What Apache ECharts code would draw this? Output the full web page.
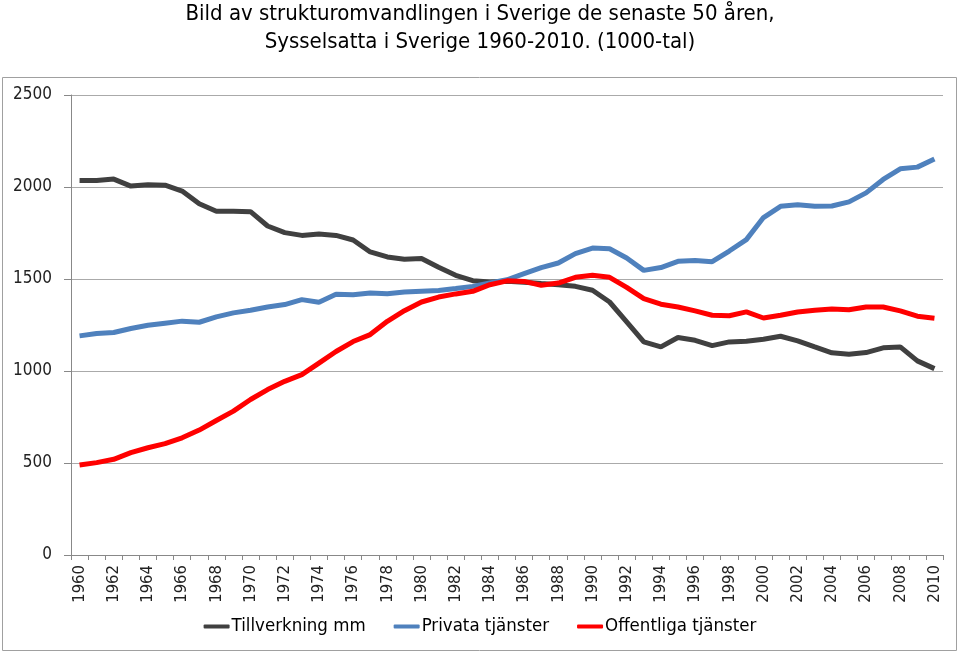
<!DOCTYPE html>
<html><head><meta charset="utf-8">
<script src="https://cdn.jsdelivr.net/npm/echarts@6/dist/echarts.min.js"></script>
<style>html,body{margin:0;padding:0;background:#fff}#c{width:960px;height:654px}</style>
</head><body><div id="c"></div>
<script>
const years = [];
for (let y = 1960; y <= 2010; y++) years.push(String(y));
const yTicks = [0, 500, 1000, 1500, 2000, 2500];
const seriesNames = ['Tillverkning mm', 'Privata tjänster', 'Offentliga tjänster'];
const tillverkning = [2036,2035,2043,2005,2012,2010,1978,1909,1868,1868,1866,1788,1752,1737,1744,1737,1712,1647,1620,1607,1611,1564,1520,1491,1484,1488,1482,1475,1469,1460,1439,1375,1267,1158,1131,1182,1167,1138,1158,1162,1173,1189,1164,1131,1099,1091,1100,1126,1131,1055,1013];
const privata = [1191,1204,1209,1231,1249,1260,1271,1265,1294,1316,1330,1348,1361,1388,1374,1417,1414,1424,1420,1429,1433,1437,1448,1460,1478,1496,1529,1562,1587,1638,1668,1664,1614,1547,1562,1596,1601,1594,1652,1714,1834,1895,1904,1895,1897,1919,1968,2041,2099,2108,2152];
const offentliga = [489,502,520,556,583,605,637,679,731,782,845,899,944,980,1043,1106,1160,1198,1270,1328,1375,1402,1419,1433,1469,1490,1487,1466,1478,1509,1520,1509,1454,1393,1363,1348,1327,1303,1300,1321,1288,1303,1321,1330,1337,1333,1348,1348,1327,1298,1287];
const colors = ['#404040', '#4f81bd', '#ff0000'];
const font = "'Liberation Sans Narrow','DejaVu Sans Condensed',sans-serif";
const chart = echarts.init(document.getElementById('c'));
chart.setOption({
  animation: false,
  title: {
    text: 'Bild av strukturomvandlingen i Sverige de senaste 50 åren,\nSysselsatta i Sverige 1960-2010. (1000-tal)',
    left: 'center', top: -5,
    textStyle: { fontFamily: font, fontSize: 22, fontWeight: 'normal', color: '#000', lineHeight: 28 }
  },
  graphic: [{ type: 'rect', shape: { x: 2.5, y: 77.5, width: 954, height: 573 }, style: { fill: 'none', stroke: '#a0a0a0', lineWidth: 1 } }],
  legend: {
    bottom: 13, left: 'center', itemWidth: 26, itemHeight: 4, itemGap: 28,
    icon: 'roundRect',
    textStyle: { fontFamily: font, fontSize: 18.5, color: '#000', padding: [0, 0, 0, -3] },
    data: seriesNames
  },
  grid: { left: 71, right: 17, top: 95, bottom: 99, containLabel: false },
  xAxis: {
    type: 'category', data: years, boundaryGap: true,
    axisLine: { lineStyle: { color: '#888' } },
    axisTick: { show: true, interval: 0, length: 5, lineStyle: { color: '#888' } },
    axisLabel: { rotate: 90, interval: 1, fontFamily: font, fontSize: 16.5, color: '#222', margin: 10 }
  },
  yAxis: {
    type: 'value', min: 0, max: 2500, interval: 500,
    axisLine: { show: true, lineStyle: { color: '#888' } },
    axisTick: { show: true, length: 7, lineStyle: { color: '#888' } },
    splitLine: { lineStyle: { color: '#aaa' } },
    axisLabel: { fontFamily: font, fontSize: 17, color: '#222', margin: 19, formatter: function (v) { return String(v); } }
  },
  series: [
    { name: seriesNames[0], type: 'line', data: tillverkning, showSymbol: false, lineStyle: { width: 5, color: colors[0] }, itemStyle: { color: colors[0] } },
    { name: seriesNames[1], type: 'line', data: privata, showSymbol: false, lineStyle: { width: 5, color: colors[1] }, itemStyle: { color: colors[1] } },
    { name: seriesNames[2], type: 'line', data: offentliga, showSymbol: false, lineStyle: { width: 5, color: colors[2] }, itemStyle: { color: colors[2] } }
  ]
});
</script></body></html>
